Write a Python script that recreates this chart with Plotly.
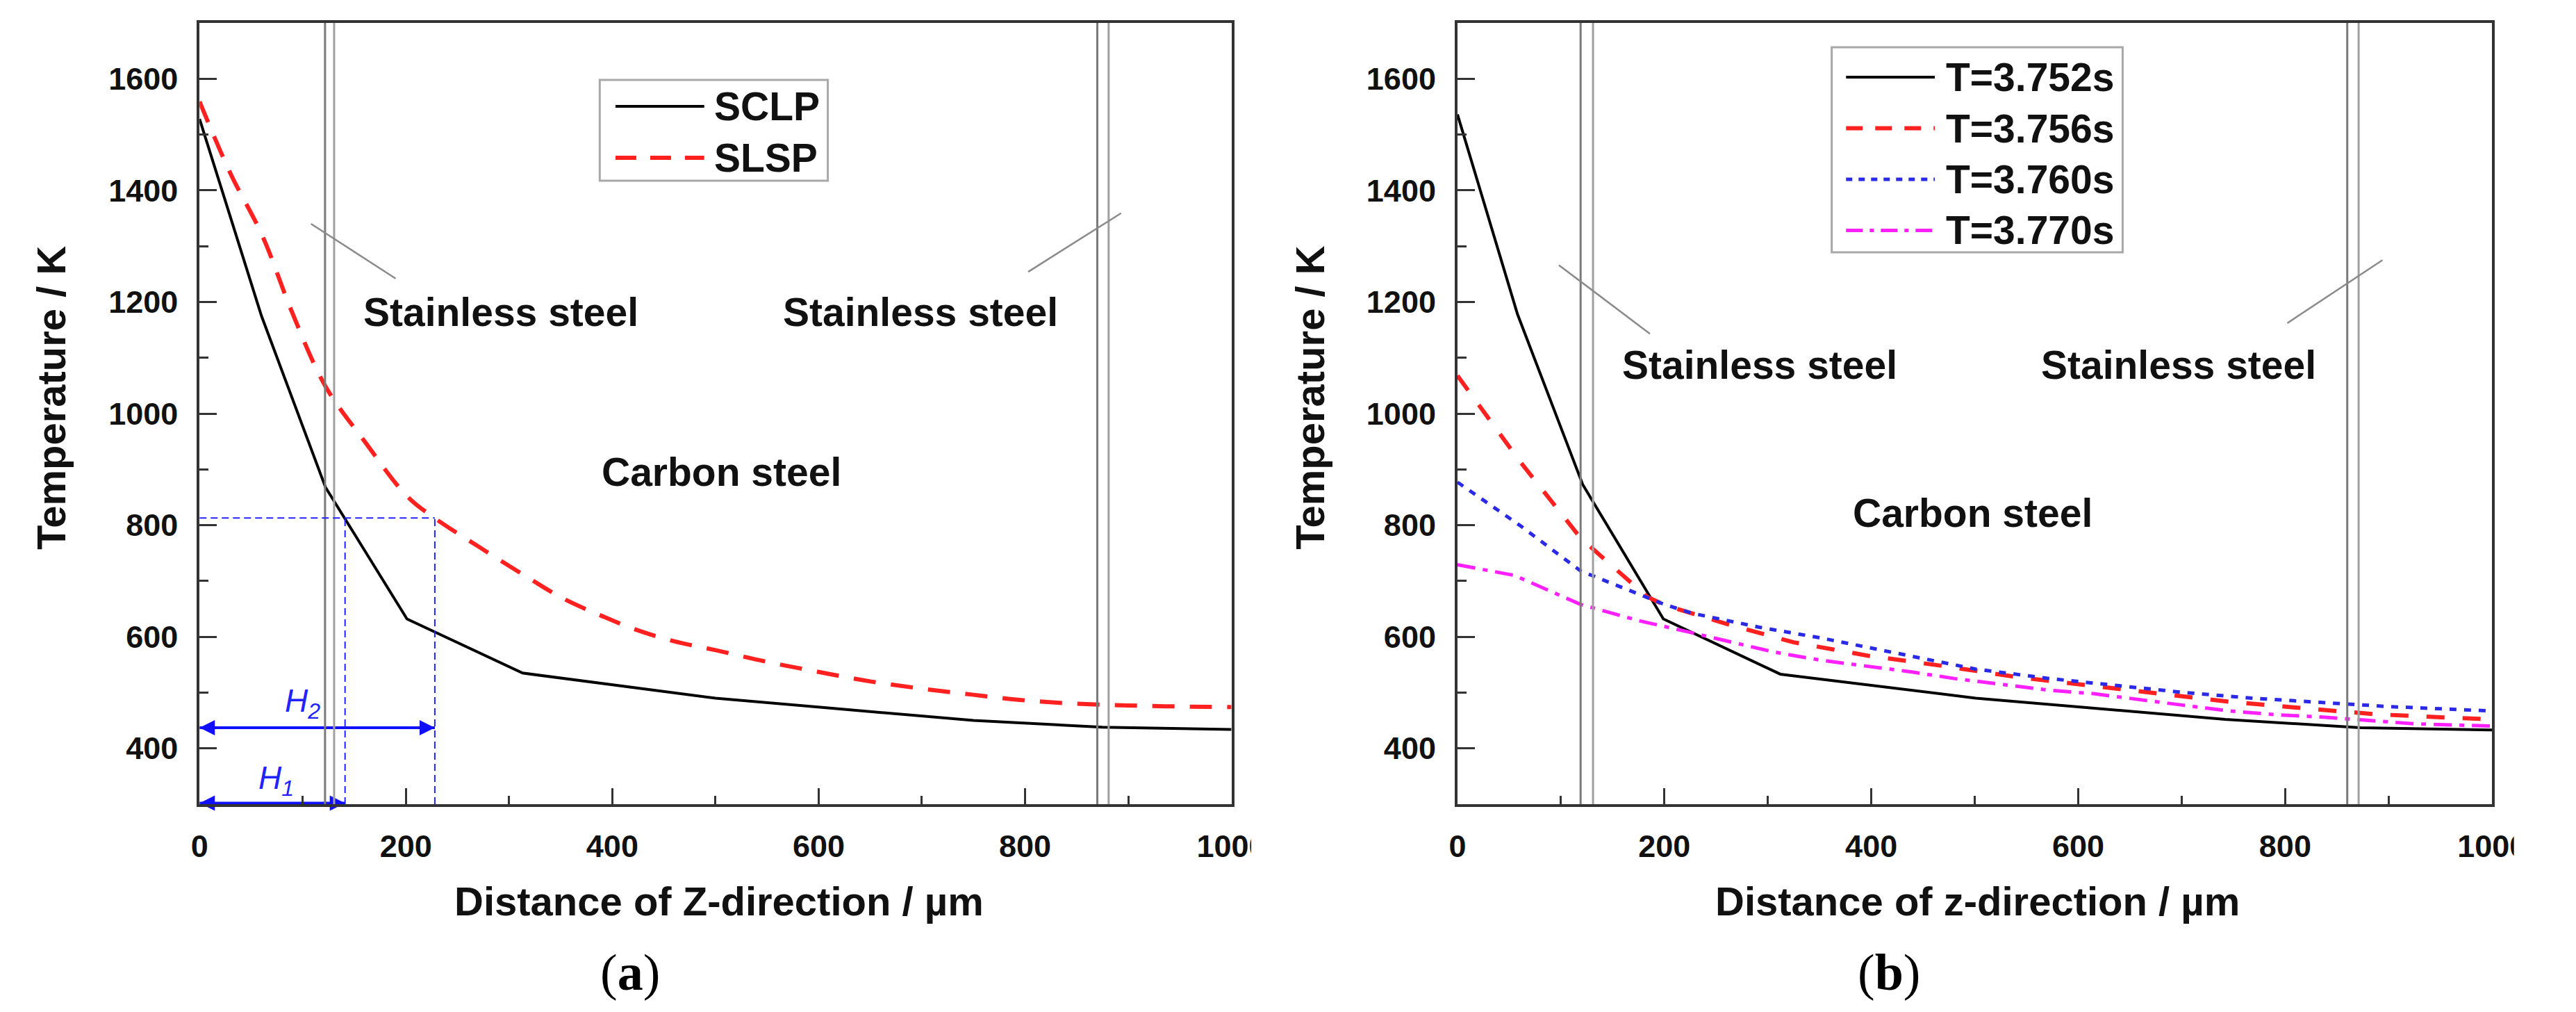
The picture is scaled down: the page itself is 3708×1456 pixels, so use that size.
import plotly.graph_objects as go

# ---------------- data ----------------
# (a) SCLP / SLSP
z_sclp = [0, 60, 122, 201, 313, 500, 750, 875, 1000]
t_sclp = [1528, 1175, 868, 632, 535, 490, 450, 438, 434]

z_slsp = [0, 30, 61, 90, 122, 160, 201, 226, 270, 320, 353, 389, 421, 460,
          500, 550, 600, 650, 700, 750, 800, 850, 900, 950, 1000]
t_slsp = [1559, 1430, 1318, 1180, 1049, 950, 852, 815, 762, 704, 668, 638, 614, 592,
          576, 555, 537, 520, 507, 496, 486, 480, 477, 475, 474]

# (b) four time steps
z_3752 = [0, 58, 121, 199, 312, 501, 742, 873, 1000]
t_3752 = [1536, 1178, 873, 632, 533, 490, 452, 437, 433]

z_3756 = [0, 60, 119, 139, 183, 200, 260, 325, 397, 468, 540, 605, 677, 749, 817, 889, 958, 1000]
t_3756 = [1068, 915, 777, 744, 672, 657, 623, 590, 566, 548, 528, 514, 498, 483, 472, 461, 455, 452]

z_3760 = [0, 60, 119, 200, 227, 292, 351, 429, 501, 573, 638, 703, 768, 834, 899, 1000]
t_3760 = [877, 800, 718, 658, 642, 617, 598, 569, 542, 525, 512, 500, 490, 482, 475, 467]

z_3770 = [0, 55, 119, 175, 220, 263, 305, 351, 393, 439, 481, 527, 573, 615, 658, 703,
          746, 794, 837, 886, 925, 1000]
t_3770 = [729, 710, 658, 629, 610, 592, 573, 558, 548, 537, 525, 515, 504, 498, 487, 477,
          467, 460, 456, 450, 444, 440]

# interfaces (stainless / carbon), guide values
iface_a = [121.6, 130.4, 870, 881]
iface_b = [119, 131, 860, 871]
h1, h2, t_ref = 141, 228, 813
h2_arrow_t, h1_arrow_t = 437, 302

legend_a = ["SCLP", "SLSP"]
legend_b = ["T=3.752s", "T=3.756s", "T=3.760s", "T=3.770s"]

# ---------------- styling ----------------
W, H = 3708, 1456
FONT = "Liberation Sans, Arial, sans-serif"
AXC = "#333333"
TXT = "#111111"
RED, BLUE, MAG = "#ff2020", "#2a2ae6", "#ff20ff"
GUIDE = "#2222ff"


def fx(px):
    return px / W


def fy(py):
    return 1 - py / H


def label(**kw):
    # centred text, no arrow
    d = dict(showarrow=False, xanchor="center", yanchor="middle")
    d.update(kw)
    return d


fig = go.Figure()

# panel (a)
fig.add_trace(go.Scatter(x=z_sclp, y=t_sclp, mode="lines", xaxis="x", yaxis="y",
                         line=dict(color="black", width=4), showlegend=False))
fig.add_trace(go.Scatter(x=z_slsp, y=t_slsp, mode="lines", xaxis="x", yaxis="y",
                         line=dict(color=RED, width=6, dash="32px,22px", shape="spline"),
                         showlegend=False))

# H1 / H2 double arrows
for xe, ye in ((h2, h2_arrow_t), (h1, h1_arrow_t)):
    fig.add_trace(go.Scatter(x=[0, xe], y=[ye, ye], mode="lines+markers", xaxis="x", yaxis="y",
                             line=dict(color="#1010ff", width=4),
                             marker=dict(symbol=["arrow-left", "arrow-right"], size=22,
                                         color="#1010ff", line=dict(width=0)),
                             cliponaxis=False, showlegend=False))

# panel (b)
styles_b = [("black", 4, "solid"), (RED, 6, "26px,26px"),
            (BLUE, 5, "10px,11px"), (MAG, 5, "26px,11px,7px,11px")]
series_b = [(z_3752, t_3752), (z_3756, t_3756), (z_3760, t_3760), (z_3770, t_3770)]
for (zz, tt), (c, w, d) in zip(series_b, styles_b):
    fig.add_trace(go.Scatter(x=zz, y=tt, mode="lines", xaxis="x2", yaxis="y2",
                             line=dict(color=c, width=w, dash=d), showlegend=False))

shapes = []
annotations = []

# interface lines
for xr, yr, lst in (("x", "y domain", iface_a), ("x2", "y2 domain", iface_b)):
    for i, v in enumerate(lst):
        shapes.append(dict(type="line", xref=xr, yref=yr, x0=v, x1=v, y0=0, y1=1,
                           line=dict(color="#7a7a7a" if i % 2 == 0 else "#a0a0a0", width=3)))

# pointer lines to "Stainless steel"
pointers = [("x", "y", 108, 1340, 190, 1242), ("x", "y", 803, 1254, 893, 1359),
            ("x2", "y2", 98, 1266, 186, 1143), ("x2", "y2", 802, 1162, 894, 1275)]
for xr, yr, x0, y0, x1, y1 in pointers:
    shapes.append(dict(type="line", xref=xr, yref=yr, x0=x0, y0=y0, x1=x1, y1=y1,
                       line=dict(color="#8a8a8a", width=2.5)))

# blue guides in (a)
guide = dict(color=GUIDE, width=2, dash="10px,6px")
shapes.append(dict(type="line", xref="x", yref="y", x0=0, x1=h2, y0=t_ref, y1=t_ref, line=guide))
shapes.append(dict(type="line", xref="x", yref="y", x0=h1, x1=h1, y0=300, y1=t_ref, line=guide))
shapes.append(dict(type="line", xref="x", yref="y", x0=h2, x1=h2, y0=300, y1=t_ref, line=guide))
annotations.append(label(xref="x", yref="y", x=100, y=481, text="<i>H<sub>2</sub></i>",
                         font=dict(family=FONT, size=46, color=GUIDE)))
annotations.append(label(xref="x", yref="y", x=74, y=343, text="<i>H<sub>1</sub></i>",
                         font=dict(family=FONT, size=46, color=GUIDE)))

# region labels
regions = [("x", "y", 292, 1182, "Stainless steel"), ("x", "y", 699, 1182, "Stainless steel"),
           ("x", "y", 506, 896, "Carbon steel"),
           ("x2", "y2", 292, 1087, "Stainless steel"), ("x2", "y2", 697, 1087, "Stainless steel"),
           ("x2", "y2", 498, 822, "Carbon steel")]
for xr, yr, xv, yv, txt in regions:
    annotations.append(label(xref=xr, yref=yr, x=xv, y=yv, text=txt,
                             font=dict(family=FONT, size=57, color=TXT, weight="bold")))

# axis titles and panel tags
for xc, txt in ((1040, "Distance of Z-direction / µm"), (2882, "Distance of z-direction / µm")):
    annotations.append(label(xref="paper", yref="paper", x=fx(xc), y=fy(1296), text=txt,
                             font=dict(family=FONT, size=58, color=TXT, weight="bold")))
for xc in (62, 1905):
    annotations.append(label(xref="paper", yref="paper", x=fx(xc), y=fy(572),
                             text="Temperature / K", textangle=-90,
                             font=dict(family=FONT, size=58, color=TXT, weight="bold")))
for xc, tag in ((909, "a"), (2753, "b")):
    annotations.append(label(xref="paper", yref="paper", x=fx(xc), y=fy(1399),
                             text="(<b>" + tag + "</b>)",
                             font=dict(family="Liberation Serif, Times New Roman, serif", size=74,
                                       color="black")))

# legends drawn by hand so the sample lines get the long length of the original
box = dict(color="#a8a8a8", width=3)
shapes.append(dict(type="rect", xref="paper", yref="paper", x0=fx(865), x1=fx(1199),
                   y0=fy(260), y1=fy(115), line=box, fillcolor="white", layer="above"))
leg_a_style = [("black", 4, "solid"), (RED, 6, "30px,20px")]
for i, (name, (c, w, d)) in enumerate(zip(legend_a, leg_a_style)):
    yy = fy(153 + 74 * i)
    shapes.append(dict(type="line", xref="paper", yref="paper", x0=fx(888), x1=fx(1018),
                       y0=yy, y1=yy, line=dict(color=c, width=w, dash=d), layer="above"))
    annotations.append(label(xref="paper", yref="paper", x=fx(1030), y=yy, xanchor="left",
                             text=name, font=dict(family=FONT, size=57, color=TXT, weight="bold")))

shapes.append(dict(type="rect", xref="paper", yref="paper", x0=fx(2669), x1=fx(3095),
                   y0=fy(363), y1=fy(68), line=box, fillcolor="white", layer="above"))
leg_b_dash = ["solid", "24px,18px", "9px,9px", "24px,10px,6px,10px"]
for i, (name, (c, w, _), d) in enumerate(zip(legend_b, styles_b, leg_b_dash)):
    yy = fy(111 + 73.5 * i)
    shapes.append(dict(type="line", xref="paper", yref="paper", x0=fx(2690), x1=fx(2820),
                       y0=yy, y1=yy, line=dict(color=c, width=w, dash=d), layer="above"))
    annotations.append(label(xref="paper", yref="paper", x=fx(2834), y=yy, xanchor="left",
                             text=name, font=dict(family=FONT, size=57, color=TXT, weight="bold")))

# the "1000" labels are cut off at the panel edge in the original
for x0, x1 in ((1819, 1870), (3668, 3708)):
    shapes.append(dict(type="rect", xref="paper", yref="paper", x0=fx(x0), x1=fx(x1),
                       y0=fy(1245), y1=fy(1168), line=dict(width=0), fillcolor="white",
                       layer="above"))

xaxis_common = dict(range=[0, 1000], tick0=0, dtick=200, ticks="inside", ticklen=23,
                    tickwidth=3, tickcolor=AXC, showline=True, linecolor=AXC, linewidth=4,
                    mirror=True, showgrid=False, zeroline=False, ticklabelstandoff=18,
                    tickfont=dict(family=FONT, size=45, color=TXT, weight="bold"),
                    minor=dict(dtick=100, ticks="inside", ticklen=12, tickwidth=3, tickcolor=AXC))
yaxis_common = dict(range=[300, 1700], tick0=0, dtick=200, ticks="inside", ticklen=25,
                    tickwidth=3, tickcolor=AXC, showline=True, linecolor=AXC, linewidth=4,
                    mirror=True, showgrid=False, zeroline=False, ticklabelstandoff=18,
                    tickfont=dict(family=FONT, size=45, color=TXT, weight="bold"),
                    minor=dict(dtick=100, ticks="inside", ticklen=13, tickwidth=3, tickcolor=AXC))

ydom = [fy(1157), fy(33)]
fig.update_layout(
    width=W, height=H, autosize=False,
    margin=dict(l=0, r=0, t=0, b=0),
    paper_bgcolor="white", plot_bgcolor="white",
    xaxis=dict(xaxis_common, domain=[fx(279), fx(1790)], anchor="y"),
    yaxis=dict(yaxis_common, domain=ydom, anchor="x"),
    xaxis2=dict(xaxis_common, domain=[fx(2121), fx(3636)], anchor="y2"),
    yaxis2=dict(yaxis_common, domain=ydom, anchor="x2"),
    shapes=shapes,
    annotations=annotations,
    showlegend=False,
)

fig.write_html("out.html", post_script="document.body.style.margin='0';",
               config={"displayModeBar": False})
